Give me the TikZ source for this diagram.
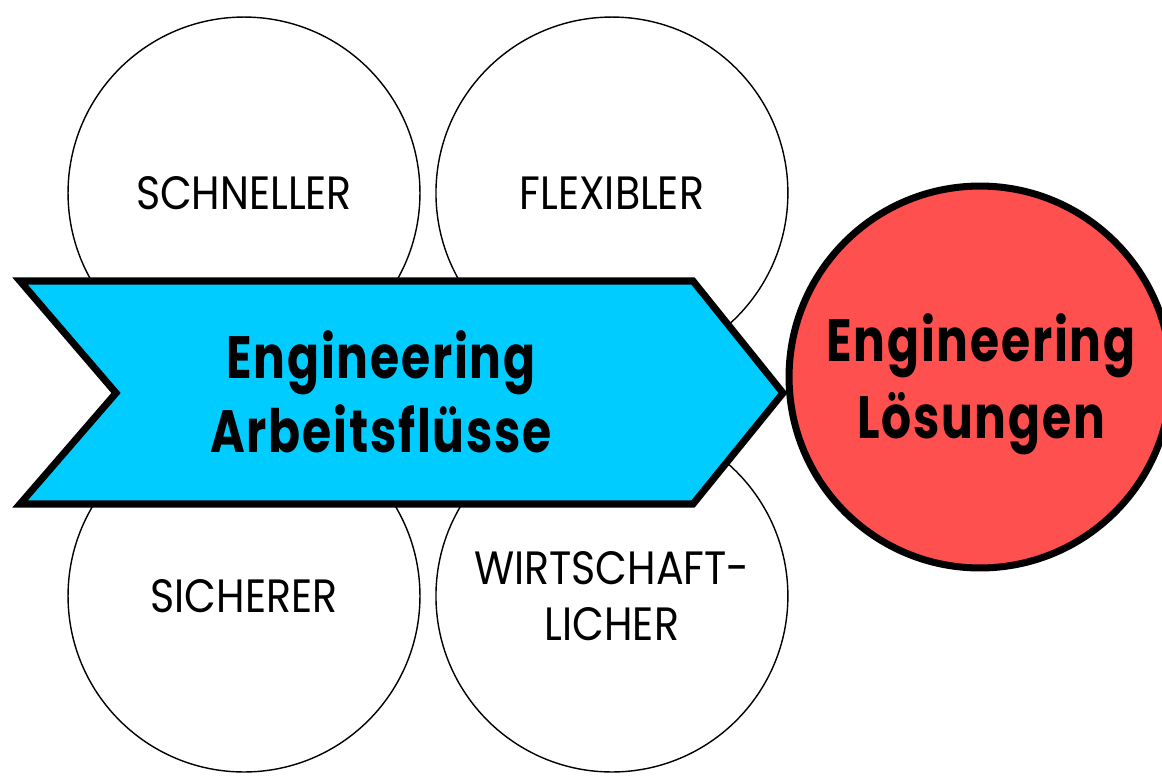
\documentclass[tikz,border=0pt]{standalone}
\usepackage{fontspec}
\setmainfont{Poppins}
\newfontfamily\bubblefont{Poppins}[FakeStretch=0.88]
\newfontfamily\headfont{Poppins}[FakeStretch=0.79, LetterSpace=3]
\usetikzlibrary{positioning}
\definecolor{flowblue}{RGB}{0,204,255}
\definecolor{goalred}{RGB}{255,80,80}

\begin{document}
\begin{tikzpicture}[x=0.02cm, y=-0.02cm, node distance=7.36cm]
    \tikzstyle{bubble} = [draw, line width=0.8pt, circle, minimum size=7.04cm,
	inner sep=0pt, align=center, font=\bubblefont\fontsize{26.6}{31.7}\selectfont]
    \tikzstyle{flow} = [draw, line width=4pt, fill=flowblue, line join=miter]
    \tikzstyle{goal} = [draw, line width=4pt, circle, fill=goalred, minimum size=7.64cm,
	inner sep=0pt]
    \tikzstyle{head} = [align=center, font=\headfont\bfseries\fontsize{34}{42}\selectfont]

		\useasboundingbox (0,0) rectangle (1162,775);

		\path
			node[bubble] at (244,193) (fast) {SCHNELLER}
			node[bubble, right of=fast] (flex) {FLEXIBLER}
			node[bubble] at (244,596) (safe) {SICHERER}
			node[bubble, right of=safe] (econ) {WIRTSCHAFT-\\LICHER}
		;

		\coordinate (a1) at (20,281);
		\coordinate (a2) at (693,281);
		\coordinate (a3) at (783,393);
		\coordinate (a4) at (693,504);
		\coordinate (a5) at (20,504);
		\coordinate (a6) at (116,393);
		\draw[flow] (a1) -- (a2) -- (a3) -- (a4) -- (a5) -- (a6) -- cycle;
		\node[head] (work) at (381,392) {Engineering\\Arbeitsflüsse};

		\node[goal] at (980,377) (result) {};
		\node[head, font=\headfont\bfseries\fontsize{34}{44}\selectfont]
			(resulttext) at (981,384) {Engineering\\Lösungen};

\end{tikzpicture}
\end{document}
